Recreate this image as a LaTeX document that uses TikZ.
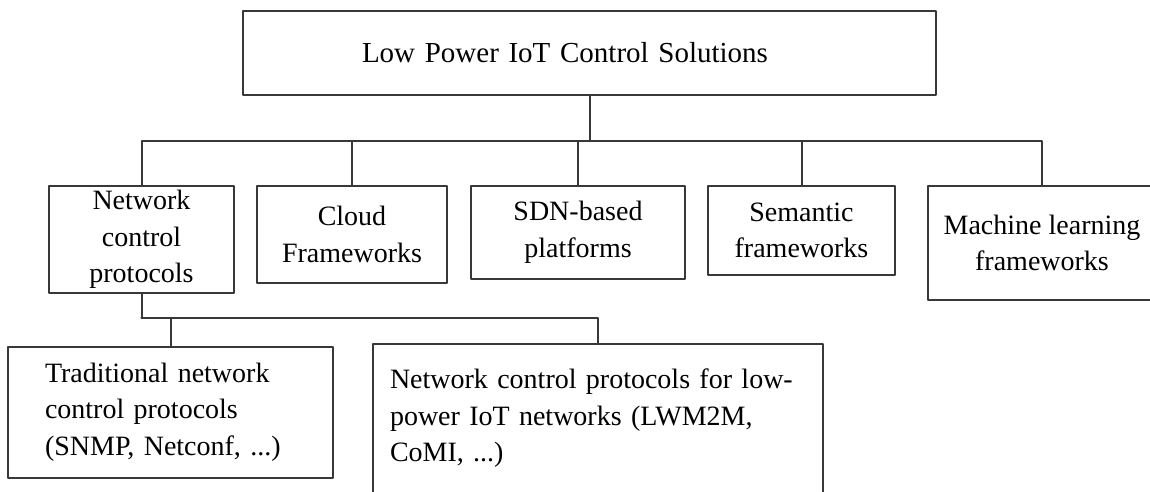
\documentclass[tikz,border=0pt]{standalone}
\usepackage{fontspec}
\setmainfont{Liberation Serif}
\usepackage{tikz}

\begin{document}
\begin{tikzpicture}[line cap=round,line join=round,x=1pt,y=-1pt,
  box/.style={draw=black!78,line width=2pt,inner sep=0pt,align=center,
    font=\fontsize{28}{36.5}\selectfont},
  link/.style={draw=black!78,line width=2pt}]
\clip (0,0) rectangle (1150,491);
\node[box,minimum width=693,minimum height=84,text width=455,align=left,inner xsep=119,
  font=\fontsize{29}{36.5}\selectfont] (root) at (589.5,53) {Low Power IoT Control Solutions};
\node[box,minimum width=185,minimum height=107] (ncp) at (141.5,239.5) {Network\\control\\protocols};
\node[box,minimum width=190,minimum height=97] (cloud) at (352,234.5) {Cloud\\Frameworks};
\node[box,minimum width=214,minimum height=93] (sdn) at (578,232.5) {SDN-based\\platforms};
\node[box,minimum width=187,minimum height=89] (sem) at (801.5,230.5) {Semantic\\frameworks};
\node[box,minimum width=228,minimum height=114] (ml) at (1042,243) {Machine learning\\frameworks};
\node[box,minimum width=325,minimum height=131,text width=251,inner xsep=37,align=left] (trad) at (170.5,412) {Traditional network\\control protocols\\(SNMP, Netconf, ...)};
\node[box,minimum width=450,minimum height=149,text width=416,inner xsep=17,align=left] (lpw) at (598,418.5) {Network control protocols for low-\\power IoT networks (LWM2M,\\CoMI, ...)};
\coordinate (bus) at (589.5,141);
\draw[link] (root.south) -- (bus);
\draw[link] (bus) -| (ncp.north);
\draw[link] (bus) -| (cloud.north);
\draw[link] (bus) -| (sdn.north);
\draw[link] (bus) -| (sem.north);
\draw[link] (bus) -| (ml.north);
\draw[link] (ncp.south) -- ++(0,24) coordinate (sub);
\draw[link] (sub) -| (trad.north);
\draw[link] (sub) -| (lpw.north);
\end{tikzpicture}
\end{document}
